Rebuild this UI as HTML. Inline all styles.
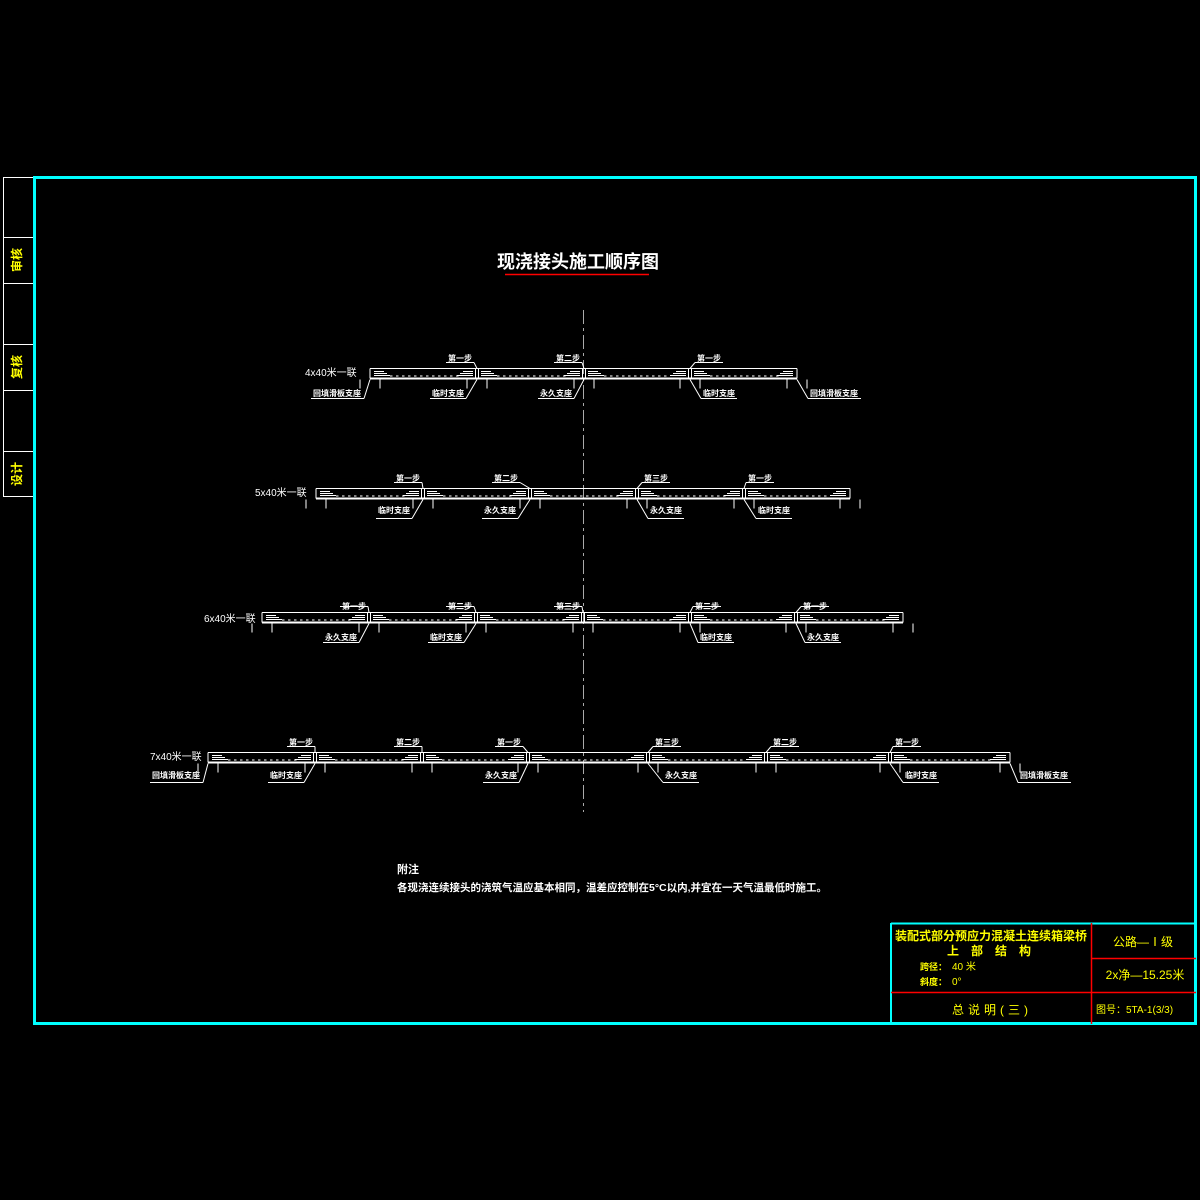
<!DOCTYPE html>
<html><head><meta charset="utf-8"><style>
html,body{margin:0;padding:0;background:#000;}
svg{display:block}
text{font-family:"Liberation Sans","Noto Sans CJK SC",sans-serif;}
.s{fill:#fff;font-size:8px;font-weight:bold}
.r{fill:#fff;font-size:10px}
</style></head><body>
<svg id="svg" width="1200" height="1200" viewBox="0 0 1200 1200" xmlns="http://www.w3.org/2000/svg">
<rect width="1200" height="1200" fill="#000"/>
<g stroke="#fff" stroke-width="1" fill="none">
<rect x="3.5" y="177.5" width="30" height="319"/>
<line x1="3" y1="237.5" x2="33" y2="237.5"/>
<line x1="3" y1="283.5" x2="33" y2="283.5"/>
<line x1="3" y1="344.5" x2="33" y2="344.5"/>
<line x1="3" y1="390.5" x2="33" y2="390.5"/>
<line x1="3" y1="451.5" x2="33" y2="451.5"/>
</g>
<g fill="#ff0" style="font-size:12px;font-weight:bold">
<text x="17" y="264" text-anchor="middle" transform="rotate(-90 17 260)">审核</text>
<text x="17" y="371" text-anchor="middle" transform="rotate(-90 17 367)">复核</text>
<text x="17" y="478" text-anchor="middle" transform="rotate(-90 17 474)">设计</text>
</g>
<rect x="34.5" y="177.5" width="1161" height="846" fill="none" stroke="#0ff" stroke-width="3"/>
<g stroke="#f00" stroke-width="1.5">
<line x1="891" y1="923" x2="891" y2="1024" stroke="#0ff" stroke-width="2"/>
<line x1="891" y1="923.5" x2="1196" y2="923.5" stroke="#0ff" stroke-width="2"/>
<line x1="1091.5" y1="923" x2="1091.5" y2="1024"/>
<line x1="891" y1="992.5" x2="1196" y2="992.5"/>
<line x1="1091" y1="958.5" x2="1196" y2="958.5"/>
</g>
<g fill="#ff0" style="font-weight:bold">
<text x="991" y="940" text-anchor="middle" style="font-size:12px">装配式部分预应力混凝土连续箱梁桥</text>
<text x="995" y="955" text-anchor="middle" style="font-size:12px;letter-spacing:12px">上部结构</text>
<text x="920" y="970" style="font-size:9px">跨径：</text>
<text x="952" y="970" style="font-size:10px;font-weight:normal">40 米</text>
<text x="920" y="985" style="font-size:9px">斜度：</text>
<text x="952" y="985" style="font-size:10px;font-weight:normal">0°</text>
<text x="992" y="1014" text-anchor="middle" style="font-size:12px;font-weight:normal;letter-spacing:4px">总说明(三)</text>
<text x="1143" y="946" text-anchor="middle" style="font-size:12px;font-weight:normal">公路—Ⅰ级</text>
<text x="1145" y="979" text-anchor="middle" style="font-size:12px;font-weight:normal">2x净—15.25米</text>
<text x="1096" y="1013" style="font-size:10px;font-weight:normal">图号：5TA-1(3/3)</text>
</g>
<text x="578" y="268" text-anchor="middle" fill="#fff" style="font-size:18px;font-weight:bold">现浇接头施工顺序图</text>
<line x1="505" y1="274.5" x2="649" y2="274.5" stroke="#f00" stroke-width="1.5"/>
<line x1="583.5" y1="310" x2="583.5" y2="812" stroke="#aaa" stroke-width="1" stroke-dasharray="14,4,3,4"/>
<g id="geo"></g>
<text class="r" x="305" y="376">4x40米一联</text>
<text class="r" x="255" y="496">5x40米一联</text>
<text class="r" x="204" y="622">6x40米一联</text>
<text class="r" x="150" y="760">7x40米一联</text>
<g class="s">
<text x="448" y="361">第一步</text><text x="556" y="361">第二步</text><text x="697" y="361">第一步</text>
<text x="313" y="396">回填滑板支座</text><text x="432" y="396">临时支座</text><text x="540" y="396">永久支座</text><text x="703" y="396">临时支座</text><text x="810" y="396">回填滑板支座</text>
<text x="396" y="481">第一步</text><text x="494" y="481">第二步</text><text x="644" y="481">第三步</text><text x="748" y="481">第一步</text>
<text x="378" y="513">临时支座</text><text x="484" y="513">永久支座</text><text x="650" y="513">永久支座</text><text x="758" y="513">临时支座</text>
<text x="342" y="609">第一步</text><text x="448" y="609">第二步</text><text x="556" y="609">第三步</text><text x="695" y="609">第二步</text><text x="803" y="609">第一步</text>
<text x="325" y="640">永久支座</text><text x="430" y="640">临时支座</text><text x="700" y="640">临时支座</text><text x="807" y="640">永久支座</text>
<text x="289" y="745">第一步</text><text x="396" y="745">第二步</text><text x="497" y="745">第一步</text><text x="655" y="745">第三步</text><text x="773" y="745">第二步</text><text x="895" y="745">第一步</text>
<text x="152" y="778">回填滑板支座</text><text x="270" y="778">临时支座</text><text x="485" y="778">永久支座</text><text x="665" y="778">永久支座</text><text x="905" y="778">临时支座</text><text x="1020" y="778">回填滑板支座</text>
</g>
<text x="397" y="873" fill="#fff" style="font-size:11px;font-weight:bold">附注</text>
<text x="397" y="891" fill="#fff" style="font-size:10.5px;font-weight:bold">各现浇连续接头的浇筑气温应基本相同，温差应控制在5°C以内,并宜在一天气温最低时施工。</text>
</svg>
<script>
var g=document.getElementById('geo'),h='';
function L(a,b,c,d,w){h+='<line x1="'+a+'" y1="'+b+'" x2="'+c+'" y2="'+d+'" stroke="#fff" stroke-width="'+(w||1)+'"/>';}
var rows=[
 {y:368,x0:370,x1:797,j:[477,584,690],st:[[448,477],[556,584],[697,690]],sup:[[313,370,6],[432,477,4],[540,584,4],[703,690,4],[810,797,6]]},
 {y:488,x0:316,x1:850,j:[423,530,637,744],st:[[396,423],[494,530],[644,637],[748,744]],sup:[[378,423,4],[484,530,4],[650,637,4],[758,744,4]]},
 {y:612,x0:262,x1:903,j:[369,476,583,690,796],st:[[342,369],[448,476],[556,583],[695,690],[803,796]],sup:[[325,369,4],[430,476,4],[700,690,4],[807,796,4]]},
 {y:752,x0:208,x1:1010,j:[315,422,528,648,766,890],st:[[289,315],[396,422],[497,528],[655,648],[773,766],[895,890]],sup:[[152,208,6],[270,315,4],[485,528,4],[665,648,4],[905,890,4],[1020,1010,6]]}
];
rows.forEach(function(r){
 var y=r.y+.5;
 L(r.x0,y,r.x1,y);L(r.x0,y+10,r.x1,y+10,2);L(r.x0,y,r.x0,y+10);L(r.x1,y,r.x1,y+10);
 var pts=[r.x0].concat(r.j,[r.x1]);
 for(var i=0;i<pts.length-1;i++){var a=pts[i],b=pts[i+1];
  for(var k=0;k<3;k++){L(a+4,y+3+k*2,a+14+k*3,y+3+k*2);L(b-14-k*3,y+3+k*2,b-4,y+3+k*2);}
  for(var x=a+20;x<b-20;x+=6)L(x,y+7.5,x+2.5,y+7.5);}
 r.j.forEach(function(x){L(x-1.5,y,x-1.5,y+10);L(x+1.5,y,x+1.5,y+10);});
 pts.forEach(function(x){L(x-10,y+11,x-10,y+20);L(x+10,y+11,x+10,y+20);});
 r.st.forEach(function(s){var ly=y-6;L(s[0]-2,ly,s[0]+26,ly);
  if(s[0]+13<s[1])L(s[0]+26,ly,s[1],y);else L(s[1],y,s[0]-2,ly);});
 r.sup.forEach(function(s){var w=s[2]*8.5;var ly=y+30;L(s[0]-2,ly,s[0]+w,ly);
  if(s[0]+w/2<s[1])L(s[0]+w,ly,s[1],y+11);else L(s[1],y+11,s[0]-2,ly);});
});
g.innerHTML=h;
</script>
</body></html>
